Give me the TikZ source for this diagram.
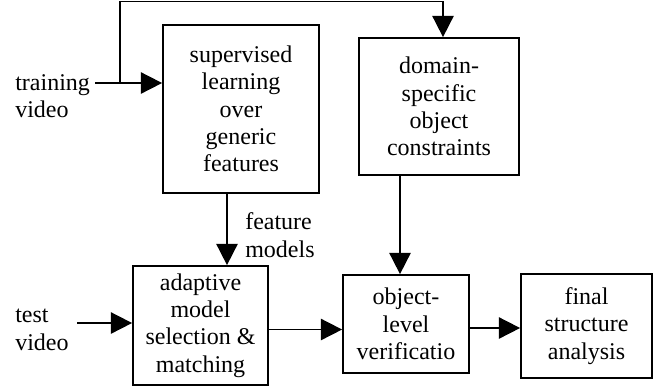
\documentclass[tikz,border=0pt]{standalone}
\usepackage{fontspec}
\setmainfont{Liberation Serif}
\usetikzlibrary{arrows.meta}
\begin{document}
\begin{tikzpicture}[x=0.75pt, y=-0.75pt,
  box/.style={draw, line width=1.3pt, align=center, inner sep=0pt, font=\fontsize{18}{20.5}\selectfont},
  lbl/.style={anchor=west, align=left, inner sep=0pt, font=\fontsize{18}{20.5}\selectfont},
  arr/.style={line width=1.3pt, -{Triangle[length=16pt,width=16pt]}}]
\useasboundingbox (0,0) rectangle (659,387);

% boxes
\node[box, minimum width=117pt, minimum height=126pt] (sup) at (241,109) {supervised\\learning\\over\\generic\\features};
\node[box, minimum width=120pt, minimum height=102.75pt] (dom) at (439,106.5) {domain-\\specific\\object\\constraints};
\node[box, minimum width=101.25pt, minimum height=89.25pt] (adapt) at (200.5,325.5) {adaptive\\model\\selection \&\\matching};
\node[box, minimum width=94.5pt, minimum height=73.5pt] (obj) at (406,324) {object-\\level\\verificatio};
\node[box, minimum width=98.25pt, minimum height=78pt] (fin) at (586.5,326) {final\\structure\\analysis};

% labels
\node[lbl] (train) at (15,96) {training\\video};
\node[lbl] (test) at (15,330) {test\\video};
\node[lbl] (feat) at (245,235) {feature\\models};

\coordinate (trainend) at (95,83);
\coordinate (split) at (120,83);
\coordinate (top) at (443,1.5);
\coordinate (testend) at (77,323);

% connectors
\draw[arr] (trainend) -- (trainend -| sup.west);
\draw[arr] (split) |- (top) -- (top |- dom.north);
\draw[arr] ([xshift=-10.5pt]sup.south) -- ([xshift=-10.5pt]sup.south |- adapt.north);
\draw[arr] (testend) -- (testend -| adapt.west);
\draw[arr] ([xshift=-4.5pt]obj.north |- dom.south) -- ([xshift=-4.5pt]obj.north);
\draw[arr] ([yshift=-3pt]adapt.east) -- ([yshift=-3pt]adapt.east -| obj.west);
\draw[arr] ([yshift=-3pt]obj.east) -- ([yshift=-3pt]obj.east -| fin.west);
\end{tikzpicture}
\end{document}
